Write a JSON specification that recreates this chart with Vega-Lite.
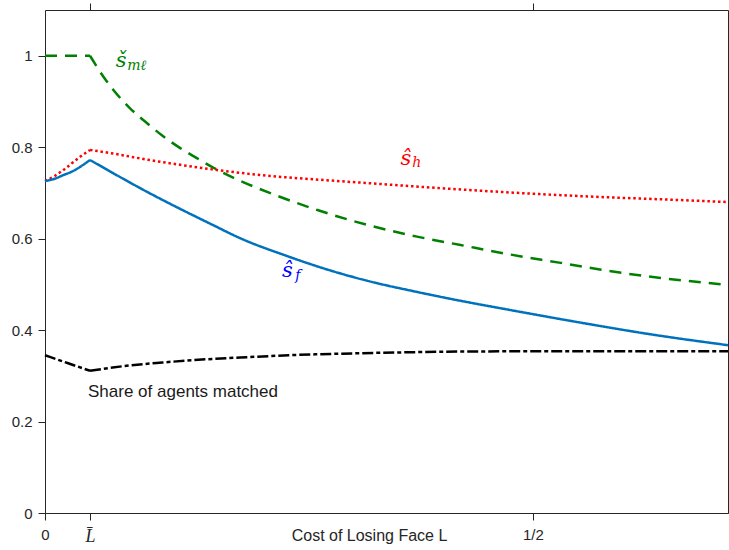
{
  "$schema": "https://vega.github.io/schema/vega-lite/v6.json",
  "width": 683,
  "height": 503,
  "autosize": {"type": "none"},
  "padding": {"left": 45, "top": 10, "right": 1, "bottom": 37},
  "background": "white",
  "config": {
    "view": {"stroke": null},
    "axis": {"domainColor": "#262626", "tickColor": "#262626", "labelColor": "#262626", "titleColor": "#262626", "grid": false, "domainWidth": 1, "tickWidth": 1, "labelFont": "Liberation Sans", "titleFont": "Liberation Sans"}
  },
  "datasets": {
    "curves": [
      {"series": "sml", "part": "a", "L": 0, "v": 1.0},
      {"series": "sml", "part": "a", "L": 0.0461, "v": 1.0},
      {"series": "sml", "part": "b", "L": 0.0461, "v": 1.0},
      {"series": "sml", "part": "b", "L": 0.0599, "v": 0.954},
      {"series": "sml", "part": "b", "L": 0.0701, "v": 0.925},
      {"series": "sml", "part": "b", "L": 0.0872, "v": 0.885},
      {"series": "sml", "part": "b", "L": 0.1026, "v": 0.856},
      {"series": "sml", "part": "b", "L": 0.1198, "v": 0.826},
      {"series": "sml", "part": "b", "L": 0.1386, "v": 0.798},
      {"series": "sml", "part": "b", "L": 0.1557, "v": 0.776},
      {"series": "sml", "part": "b", "L": 0.1727, "v": 0.755},
      {"series": "sml", "part": "b", "L": 0.1933, "v": 0.733},
      {"series": "sml", "part": "b", "L": 0.2327, "v": 0.698},
      {"series": "sml", "part": "b", "L": 0.28, "v": 0.662},
      {"series": "sml", "part": "b", "L": 0.334, "v": 0.628},
      {"series": "sml", "part": "b", "L": 0.38, "v": 0.605},
      {"series": "sml", "part": "b", "L": 0.426, "v": 0.586},
      {"series": "sml", "part": "b", "L": 0.4776, "v": 0.565},
      {"series": "sml", "part": "b", "L": 0.5286, "v": 0.547},
      {"series": "sml", "part": "b", "L": 0.57, "v": 0.532},
      {"series": "sml", "part": "b", "L": 0.631, "v": 0.514},
      {"series": "sml", "part": "b", "L": 0.7, "v": 0.499},
      {"series": "sh", "part": "a", "L": 0, "v": 0.726},
      {"series": "sh", "part": "a", "L": 0.01, "v": 0.737},
      {"series": "sh", "part": "a", "L": 0.0188, "v": 0.750},
      {"series": "sh", "part": "a", "L": 0.036, "v": 0.779},
      {"series": "sh", "part": "a", "L": 0.0461, "v": 0.794},
      {"series": "sh", "part": "b", "L": 0.0461, "v": 0.794},
      {"series": "sh", "part": "b", "L": 0.07, "v": 0.786},
      {"series": "sh", "part": "b", "L": 0.104, "v": 0.773},
      {"series": "sh", "part": "b", "L": 0.14, "v": 0.761},
      {"series": "sh", "part": "b", "L": 0.173, "v": 0.751},
      {"series": "sh", "part": "b", "L": 0.231, "v": 0.737},
      {"series": "sh", "part": "b", "L": 0.28, "v": 0.729},
      {"series": "sh", "part": "b", "L": 0.3336, "v": 0.721},
      {"series": "sh", "part": "b", "L": 0.38, "v": 0.714},
      {"series": "sh", "part": "b", "L": 0.43, "v": 0.707},
      {"series": "sh", "part": "b", "L": 0.5286, "v": 0.695},
      {"series": "sh", "part": "b", "L": 0.57, "v": 0.691},
      {"series": "sh", "part": "b", "L": 0.631, "v": 0.686},
      {"series": "sh", "part": "b", "L": 0.7, "v": 0.680},
      {"series": "sf", "part": "a", "L": 0, "v": 0.726},
      {"series": "sf", "part": "a", "L": 0.01, "v": 0.731},
      {"series": "sf", "part": "a", "L": 0.0188, "v": 0.739},
      {"series": "sf", "part": "a", "L": 0.028, "v": 0.747},
      {"series": "sf", "part": "a", "L": 0.036, "v": 0.757},
      {"series": "sf", "part": "a", "L": 0.0461, "v": 0.772},
      {"series": "sf", "part": "b", "L": 0.0461, "v": 0.772},
      {"series": "sf", "part": "b", "L": 0.075, "v": 0.737},
      {"series": "sf", "part": "b", "L": 0.104, "v": 0.703},
      {"series": "sf", "part": "b", "L": 0.1386, "v": 0.665},
      {"series": "sf", "part": "b", "L": 0.17, "v": 0.632},
      {"series": "sf", "part": "b", "L": 0.2, "v": 0.601},
      {"series": "sf", "part": "b", "L": 0.248, "v": 0.562},
      {"series": "sf", "part": "b", "L": 0.29, "v": 0.532},
      {"series": "sf", "part": "b", "L": 0.33, "v": 0.508},
      {"series": "sf", "part": "b", "L": 0.38, "v": 0.484},
      {"series": "sf", "part": "b", "L": 0.426, "v": 0.464},
      {"series": "sf", "part": "b", "L": 0.474, "v": 0.445},
      {"series": "sf", "part": "b", "L": 0.5525, "v": 0.415},
      {"series": "sf", "part": "b", "L": 0.62, "v": 0.391},
      {"series": "sf", "part": "b", "L": 0.7, "v": 0.367},
      {"series": "share", "part": "a", "L": 0, "v": 0.345},
      {"series": "share", "part": "a", "L": 0.023, "v": 0.328},
      {"series": "share", "part": "a", "L": 0.0461, "v": 0.311},
      {"series": "share", "part": "b", "L": 0.0461, "v": 0.311},
      {"series": "share", "part": "b", "L": 0.08, "v": 0.321},
      {"series": "share", "part": "b", "L": 0.12, "v": 0.329},
      {"series": "share", "part": "b", "L": 0.157, "v": 0.335},
      {"series": "share", "part": "b", "L": 0.2, "v": 0.340},
      {"series": "share", "part": "b", "L": 0.25, "v": 0.345},
      {"series": "share", "part": "b", "L": 0.295, "v": 0.348},
      {"series": "share", "part": "b", "L": 0.36, "v": 0.351},
      {"series": "share", "part": "b", "L": 0.426, "v": 0.353},
      {"series": "share", "part": "b", "L": 0.55, "v": 0.354},
      {"series": "share", "part": "b", "L": 0.7, "v": 0.354}
    ],
    "labels": [
      {"series": "sml", "L": 0.078, "v": 0.975, "t": "š"},
      {"series": "sh", "L": 0.370, "v": 0.761, "t": "ŝ"},
      {"series": "sf", "L": 0.2484, "v": 0.516, "t": "ŝ"}
    ],
    "subs": [
      {"series": "sml", "L": 0.0842, "v": 0.968, "t": "mℓ"},
      {"series": "sh", "L": 0.3765, "v": 0.756, "t": "h"},
      {"series": "sf", "L": 0.2566, "v": 0.509, "t": "f"}
    ],
    "notes": [
      {"L": 0.0441, "v": 0.265, "t": "Share of agents matched"}
    ]
  },
  "layer": [
    {
      "data": {"name": "curves"},
      "mark": {"type": "line", "strokeWidth": 2.5, "strokeCap": "butt", "strokeJoin": "miter", "interpolate": "monotone"},
      "encoding": {
        "x": {"field": "L", "type": "quantitative", "scale": {"domain": [0, 0.7], "nice": false, "zero": false},
          "axis": {"orient": "bottom", "values": [0, 0.0461, 0.5], "tickSize": 7, "labelFlush": false, "labelOverlap": false, "labelBound": false,
            "labelExpr": "datum.value == 0 ? '0' : datum.value == 0.5 ? '1/2' : 'L\u0304'",
            "labelFont": {"condition": {"test": "datum.value > 0.01 && datum.value < 0.1", "value": "Liberation Serif"}, "value": "Liberation Sans"},
            "labelFontStyle": {"condition": {"test": "datum.value > 0.01 && datum.value < 0.1", "value": "italic"}, "value": "normal"},
            "labelFontSize": {"condition": {"test": "datum.value > 0.01 && datum.value < 0.1", "value": 18}, "value": 15},
            "labelBaseline": "top", "labelPadding": 7,
            "title": "Cost of Losing Face L", "titleFontSize": 16, "titleFontWeight": "normal", "titleX": 324, "titleY": 22, "titleBaseline": "middle", "titleAlign": "center"}},
        "y": {"field": "v", "type": "quantitative", "scale": {"domain": [0, 1.1], "nice": false, "zero": false},
          "axis": {"orient": "left", "values": [0, 0.2, 0.4, 0.6, 0.8, 1], "format": "~g", "tickSize": 7, "labelPadding": 6, "labelFontSize": 15, "labelFlush": false, "title": null}},
        "color": {"field": "series", "type": "nominal", "legend": null,
          "scale": {"domain": ["sml", "sh", "sf", "share"], "range": ["#008000", "#ff0000", "#0072bd", "#000000"]}},
        "strokeDash": {"field": "series", "type": "nominal", "legend": null,
          "scale": {"domain": ["sml", "sh", "sf", "share"], "range": [[12, 8], [2.5, 2.8], [1, 0], [11, 3, 4, 3]]}},
        "detail": {"field": "part"}
      }
    },
    {
      "data": {"name": "labels"},
      "mark": {"type": "text", "font": "DejaVu Serif", "fontStyle": "italic", "fontSize": 21, "align": "center", "baseline": "alphabetic"},
      "encoding": {
        "x": {"field": "L", "type": "quantitative", "scale": {"domain": [0, 0.7], "nice": false, "zero": false},
          "axis": {"orient": "top", "values": [0.0461, 0.5], "labels": false, "tickSize": 7, "title": null}},
        "y": {"field": "v", "type": "quantitative", "scale": {"domain": [0, 1.1], "nice": false, "zero": false},
          "axis": {"orient": "right", "values": [0, 0.2, 0.4, 0.6, 0.8, 1], "labels": false, "tickSize": 7, "title": null}},
        "text": {"field": "t"},
        "color": {"field": "series", "type": "nominal", "legend": null,
          "scale": {"domain": ["sml", "sh", "sf"], "range": ["#008000", "#ff0000", "#0000ff"]}}
      }
    },
    {
      "data": {"name": "subs"},
      "mark": {"type": "text", "font": "DejaVu Serif", "fontStyle": "italic", "fontSize": 14, "align": "left", "baseline": "alphabetic"},
      "encoding": {
        "x": {"field": "L", "type": "quantitative", "scale": {"domain": [0, 0.7], "nice": false, "zero": false}, "axis": null},
        "y": {"field": "v", "type": "quantitative", "scale": {"domain": [0, 1.1], "nice": false, "zero": false}, "axis": null},
        "text": {"field": "t"},
        "color": {"field": "series", "type": "nominal", "legend": null,
          "scale": {"domain": ["sml", "sh", "sf"], "range": ["#008000", "#ff0000", "#0000ff"]}}
      }
    },
    {
      "data": {"name": "notes"},
      "mark": {"type": "text", "font": "Liberation Sans", "fontSize": 17, "align": "left", "baseline": "middle", "color": "#1a1a1a"},
      "encoding": {
        "x": {"field": "L", "type": "quantitative", "scale": {"domain": [0, 0.7], "nice": false, "zero": false}, "axis": null},
        "y": {"field": "v", "type": "quantitative", "scale": {"domain": [0, 1.1], "nice": false, "zero": false}, "axis": null},
        "text": {"field": "t"}
      }
    }
  ],
  "resolve": {"scale": {"color": "independent"}, "axis": {"x": "independent", "y": "independent"}}
}
